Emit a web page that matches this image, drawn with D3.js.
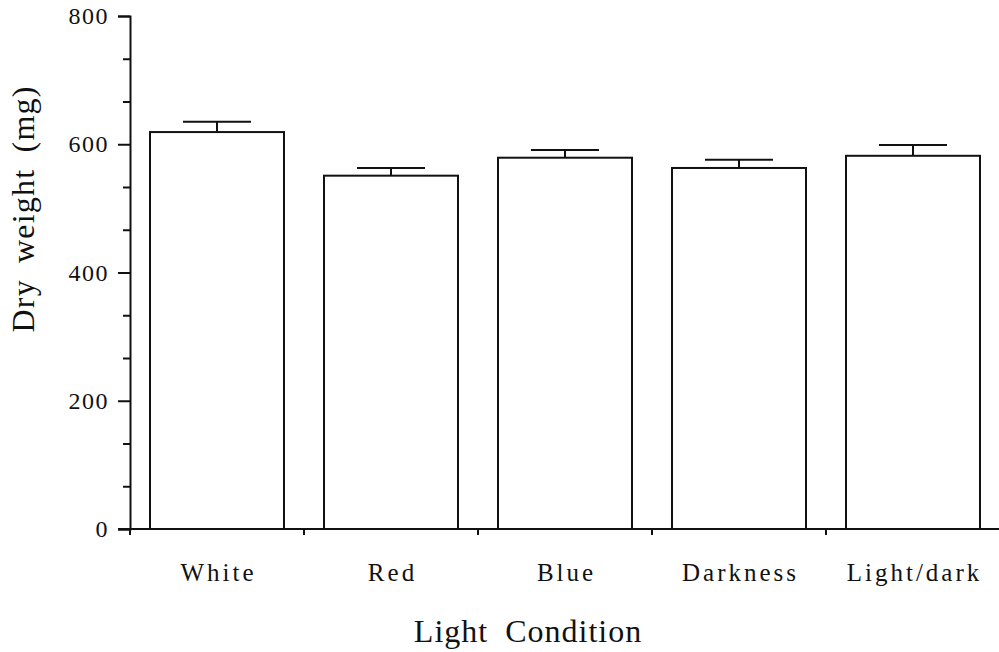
<!DOCTYPE html>
<html>
<head>
<meta charset="utf-8">
<script src="https://cdn.jsdelivr.net/npm/d3@7"></script>
<style>
body { margin: 0; background: #fff; }
text { font-family: "Liberation Serif", "DejaVu Serif", serif; fill: #111; }
</style>
</head>
<body>
<div id="chart"></div>
<script>
// values
var conditions = ["White", "Red", "Blue", "Darkness", "Light/dark"];
var dryWeight = [619, 551, 579, 563, 582];
var stdErr = [16, 12, 12, 13, 17];
var yTicks = [0, 200, 400, 600, 800];

var W = 999, H = 652;
var margin = {top: 16, right: 0, bottom: 123, left: 130};

var svg = d3.select("#chart").append("svg")
    .attr("width", W)
    .attr("height", H);

var x = d3.scaleBand()
    .domain(conditions)
    .range([margin.left, 1000])
    .paddingInner(0.23)
    .paddingOuter(0.115);

var y = d3.scaleLinear()
    .domain([0, 800])
    .range([H - margin.bottom, margin.top]);

// minor ticks at thirds between labelled ticks
var minor = d3.range(0, 800, 200 / 3).filter(function(v) {
  var r = v % 200;
  return r > 1 && r < 199;
});

// bars
var g = svg.append("g");
g.selectAll("rect")
  .data(conditions)
  .enter().append("rect")
    .attr("x", function(d) { return x(d); })
    .attr("y", function(d, i) { return y(dryWeight[i]); })
    .attr("width", x.bandwidth())
    .attr("height", function(d, i) { return y(0) - y(dryWeight[i]); })
    .attr("fill", "#fff")
    .attr("stroke", "#111")
    .attr("stroke-width", 2);

// error bars (upper only)
var capHalf = 34;
g.selectAll("line.stem")
  .data(conditions)
  .enter().append("line")
    .attr("class", "stem")
    .attr("x1", function(d) { return x(d) + x.bandwidth() / 2; })
    .attr("x2", function(d) { return x(d) + x.bandwidth() / 2; })
    .attr("y1", function(d, i) { return y(dryWeight[i]); })
    .attr("y2", function(d, i) { return y(dryWeight[i] + stdErr[i]); })
    .attr("stroke", "#111").attr("stroke-width", 2);
g.selectAll("line.cap")
  .data(conditions)
  .enter().append("line")
    .attr("class", "cap")
    .attr("x1", function(d) { return x(d) + x.bandwidth() / 2 - capHalf; })
    .attr("x2", function(d) { return x(d) + x.bandwidth() / 2 + capHalf; })
    .attr("y1", function(d, i) { return y(dryWeight[i] + stdErr[i]); })
    .attr("y2", function(d, i) { return y(dryWeight[i] + stdErr[i]); })
    .attr("stroke", "#111").attr("stroke-width", 2);

// y axis
var yAxis = svg.append("g")
    .attr("transform", "translate(" + margin.left + ",0)")
    .call(d3.axisLeft(y).tickValues(yTicks).tickSize(12).tickPadding(9).tickFormat(d3.format("d")));
yAxis.select(".domain").attr("stroke-width", 2).attr("stroke", "#111");
yAxis.selectAll(".tick line").attr("stroke-width", 2).attr("stroke", "#111");
yAxis.selectAll(".tick text")
    .style("font-size", "24px")
    .style("letter-spacing", "1.5px")
    .attr("fill", "#222");

svg.append("g")
    .attr("transform", "translate(" + margin.left + ",0)")
    .call(d3.axisLeft(y).tickValues(minor).tickSize(7).tickFormat(""))
    .call(function(s) { s.select(".domain").remove(); })
    .selectAll(".tick line").attr("stroke-width", 2).attr("stroke", "#111");

// x axis
svg.append("line")
    .attr("x1", margin.left - 12).attr("x2", W)
    .attr("y1", y(0)).attr("y2", y(0))
    .attr("stroke", "#111").attr("stroke-width", 2);

var boundaries = conditions.slice(1).map(function(d) { return x(d) - x.step() * x.paddingInner() / 2; });
boundaries.unshift(margin.left);
svg.selectAll("line.xtick")
  .data(boundaries)
  .enter().append("line")
    .attr("class", "xtick")
    .attr("x1", function(d) { return d; }).attr("x2", function(d) { return d; })
    .attr("y1", y(0)).attr("y2", y(0) + 6)
    .attr("stroke", "#111").attr("stroke-width", 2);

svg.selectAll("text.cat")
  .data(conditions)
  .enter().append("text")
    .attr("class", "cat")
    .attr("x", function(d) { return x(d) + x.bandwidth() / 2 + 1.5; })
    .attr("y", 581)
    .attr("text-anchor", "middle")
    .style("font-size", "25px")
    .style("letter-spacing", "3px")
    .attr("fill", "#222")
    .text(function(d) { return d; });

// axis titles
svg.append("text")
    .attr("x", 528)
    .attr("y", 642)
    .attr("text-anchor", "middle")
    .style("font-size", "32px")
    .style("letter-spacing", "1px")
    .style("word-spacing", "8px")
    .text("Light Condition");

svg.append("text")
    .attr("transform", "translate(34,209) rotate(-90)")
    .attr("text-anchor", "middle")
    .style("font-size", "32px")
    .style("letter-spacing", "1.2px")
    .style("word-spacing", "7px")
    .text("Dry weight (mg)");
</script>
</body>
</html>
